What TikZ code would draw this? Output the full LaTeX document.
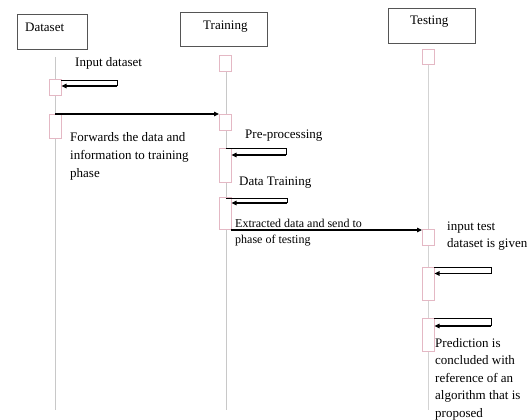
\documentclass[tikz,border=0pt]{standalone}
\usepackage{fontspec}
\setmainfont{Liberation Serif}
\usetikzlibrary{arrows.meta}
\definecolor{actpink}{HTML}{E4B8C4}
\definecolor{lifegray}{HTML}{C8C8C8}
\definecolor{boxgray}{HTML}{555555}
\begin{document}
\begin{tikzpicture}[x=1pt,y=-1pt,
  headbox/.style={draw=boxgray,line width=0.9pt,fill=white,rectangle,inner sep=0pt},
  actbox/.style={draw=actpink,line width=0.6pt,fill=white,rectangle,inner sep=0pt,minimum width=12pt},
  lifeline/.style={draw=lifegray,line width=0.8pt},
  selfline/.style={draw=black,line width=0.7pt},
  msg/.style={draw=black,line width=1.2pt,-{Triangle[length=5pt,width=4.5pt]}},
  lbl/.style={anchor=base west,inner sep=0pt,font=\fontsize{13}{17.6}\selectfont,align=left},
  lbls/.style={anchor=base west,inner sep=0pt,font=\fontsize{12}{16}\selectfont,align=left}]
\useasboundingbox (0,0) rectangle (531,420);
\fill[white] (0,0) rectangle (531,420);

% lifelines
\coordinate (dtop) at (55,57);
\coordinate (dbot) at (55,410);
\coordinate (ttop) at (226,71);
\coordinate (tbot) at (226,410);
\coordinate (stop) at (428.5,64);
\coordinate (sbot) at (428.5,410);
\draw[lifeline] (dtop) -- (dbot);
\draw[lifeline] (ttop) -- (tbot);
\draw[lifeline,line width=1.1pt,draw=lifegray!80] (stop) -- (sbot);

% header boxes
\node[headbox,minimum width=70pt,minimum height=35pt] (dsbox) at (52,31.5) {};
\node[headbox,minimum width=87pt,minimum height=34pt] (trbox) at (223.5,29) {};
\node[headbox,minimum width=87pt,minimum height=35pt] (tsbox) at (431.5,25.5) {};
\node[lbl] (dstxt) at (25,32) {Dataset};
\node[lbl] (trtxt) at (203,29.5) {Training};
\node[lbl] (tstxt) at (410,25) {Testing};

% activation boxes
\node[actbox,minimum height=16pt] (dA1) at (55,87) {};
\node[actbox,minimum height=24pt] (dA2) at (55,126) {};
\node[actbox,minimum height=16pt] (tA1) at (225,63) {};
\node[actbox,minimum height=16pt] (tA2) at (225,122) {};
\node[actbox,minimum height=34pt] (tA3) at (225,165) {};
\node[actbox,minimum height=32pt] (tA4) at (225,213) {};
\node[actbox,minimum height=15pt] (sA1) at (428,56.5) {};
\node[actbox,minimum height=16pt] (sA2) at (428,237.5) {};
\node[actbox,minimum height=33pt] (sA3) at (428,283.5) {};
\node[actbox,minimum height=33pt] (sA4) at (428,334.5) {};

% self message on Dataset
\coordinate (d1a) at (61,80);
\coordinate (d1b) at (117,80);
\coordinate (d1c) at (117,86);
\coordinate (d1d) at (61.5,86);
\draw[selfline] (d1a) -- (d1b) -- (d1c);
\draw[msg] (d1c) -- (d1d);

% Dataset -> Training
\coordinate (m1s) at (55,114);
\coordinate (m1e) at (219,114);
\draw[msg] (m1s) -- (m1e);

% self messages on Training
\coordinate (t3a) at (226,148);
\coordinate (t3b) at (286,148);
\coordinate (t3c) at (286,155);
\coordinate (t3d) at (231.5,155);
\draw[selfline] (t3a) -- (t3b) -- (t3c);
\draw[msg] (t3c) -- (t3d);

\coordinate (t4a) at (226,198);
\coordinate (t4b) at (287,198);
\coordinate (t4c) at (287,203);
\coordinate (t4d) at (231.5,203);
\draw[selfline] (t4a) -- (t4b) -- (t4c);
\draw[msg] (t4c) -- (t4d);

% Training -> Testing
\coordinate (m2s) at (231,230);
\coordinate (m2e) at (422,230);
\draw[msg] (m2s) -- (m2e);

% self messages on Testing
\coordinate (s3a) at (434,267);
\coordinate (s3b) at (491,267);
\coordinate (s3c) at (491,273.5);
\coordinate (s3d) at (434.5,273.5);
\draw[selfline] (s3a) -- (s3b) -- (s3c);
\draw[msg] (s3c) -- (s3d);

\coordinate (s4a) at (434,318);
\coordinate (s4b) at (491,318);
\coordinate (s4c) at (491,326);
\coordinate (s4d) at (434.5,326);
\draw[selfline] (s4a) -- (s4b) -- (s4c);
\draw[msg] (s4c) -- (s4d);

% labels (multi-line: anchored at the baseline of the last line)
\node[lbl] (l1) at (75,67) {Input dataset};
\node[lbl] (l2) at (70,177.2) {Forwards the data and\\information to training\\phase};
\node[lbl] (l3) at (245,139) {Pre-processing};
\node[lbl] (l4) at (239,185.5) {Data Training};
\node[lbls] (l5) at (235,243.5) {Extracted data and send to\\phase of testing};
\node[lbl] (l6) at (447,247.6) {input test\\dataset is given};
\node[lbl] (l7) at (435,417.4) {Prediction is\\concluded with\\reference of an\\algorithm that is\\proposed};
\end{tikzpicture}
\end{document}
